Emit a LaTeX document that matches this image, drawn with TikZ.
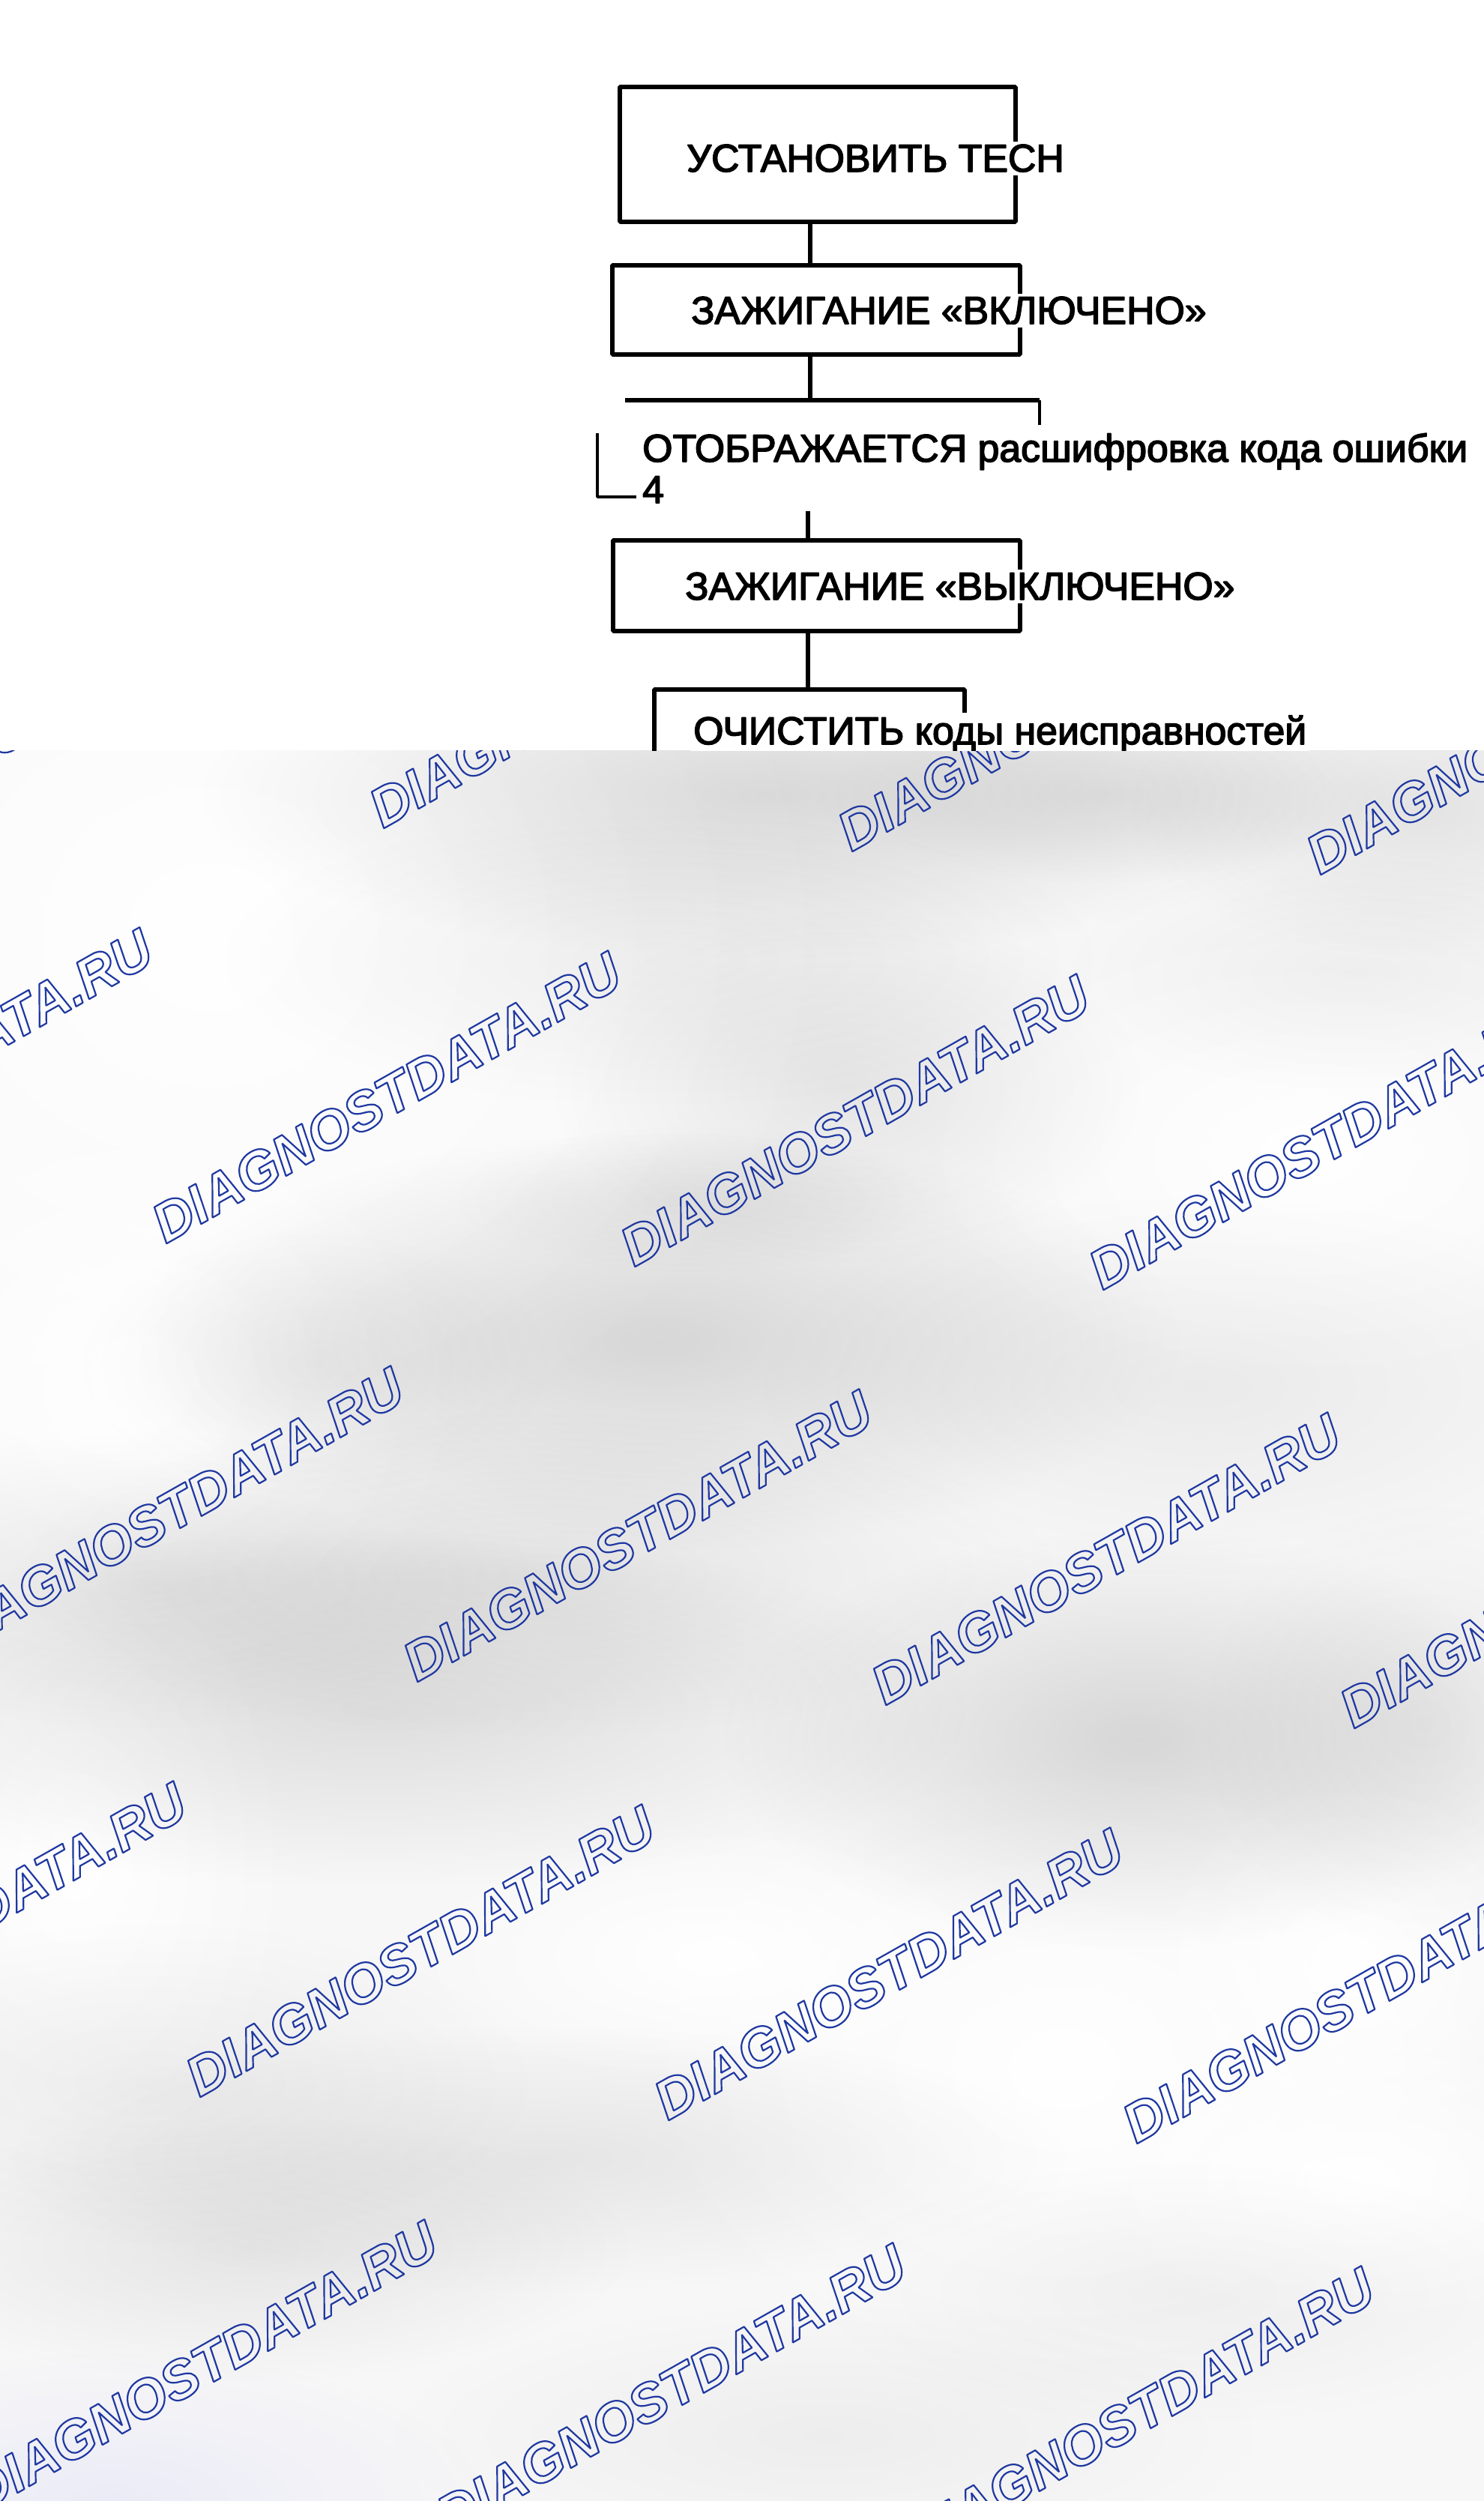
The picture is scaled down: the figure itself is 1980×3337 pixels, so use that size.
\documentclass[tikz,border=0pt]{standalone}
\usepackage{fontspec}
\setmainfont{Liberation Sans}
\newfontfamily\stepfont[FakeBold=3]{Liberation Sans}
\usetikzlibrary{fadings}
\tikzfading[name=fuzzyblob, inner color=transparent!0, outer color=transparent!100]
\definecolor{wmblue}{RGB}{30,55,160}
\newcommand\wmoutline[1]{\special{pdf:literal direct 1 Tr 2.2 w 0.12 0.22 0.63 RG}#1\special{pdf:literal direct 0 Tr}}
\begin{document}
\begin{tikzpicture}[x=1bp,y=1bp,line join=bevel,
  stepbox/.style={draw,line width=6bp,inner sep=0pt},
  steptext/.style={fill=white,inner sep=4bp,anchor=base west,font=\stepfont\fontsize{52}{57}\selectfont},
  link/.style={line width=6bp},
  watermark/.style={anchor=base west,inner sep=0pt,rotate=29.5,text=wmblue,font=\fontsize{73.5}{73.5}\selectfont\bfseries\itshape},
  blob/.style={fill=black,path fading=fuzzyblob},
  glare/.style={fill=white,path fading=fuzzyblob}]
\useasboundingbox (0bp,0bp) rectangle (1980bp,-3337bp);
\fill [white] (0bp,0bp) rectangle (1980bp,-3337bp);
%
\begin{scope}
  \clip (0bp,-1001bp) rectangle (1980bp,-3337bp);
  \fill [black!3] (0bp,-1001bp) rectangle (1980bp,-3337bp);
  \foreach \cx/\cy/\rx/\ry in {280/1250/900/800, 1750/1540/560/320, 1420/2760/600/440,
      1810/2910/400/200, 190/1850/460/420, 100/2480/300/460, 950/2610/420/180,
      1800/2620/300/260}
    \fill [glare,fill opacity=1] (\cx,-\cy) ellipse [x radius=\rx, y radius=\ry];
  \foreach \cx/\cy/\rx/\ry/\op in {1020/1060/760/220/0.12, 1480/1060/400/120/0.07,
      1900/1080/400/200/0.08, 880/1280/600/200/0.05, 1130/1450/400/240/0.07,
      880/1790/700/280/0.13, 1600/1850/600/260/0.05, 420/1820/320/180/0.05,
      200/2110/520/200/0.07, 720/2100/700/220/0.08, 500/2280/800/240/0.10,
      1520/2320/560/280/0.13, 1900/2300/300/300/0.05, 200/2780/520/220/0.05,
      720/2880/720/180/0.07, 330/3000/520/180/0.07, 1580/3060/500/180/0.04,
      1100/3250/600/180/0.04, 1810/1300/400/160/0.04, 920/1600/320/100/0.05}
    \fill [blob,fill opacity=\op] (\cx,-\cy) ellipse [x radius=\rx, y radius=\ry];
  \fill [fill=blue!40,path fading=fuzzyblob,fill opacity=0.12] (150,-3337) ellipse [x radius=500, y radius=200];
  \foreach \i in {-2,...,3}
    \foreach \j in {-2,...,3}
      \node (wm\i\j) at ({221+625*\i-290*\j},{-1660-31*\i-554*\j}) [watermark] {\wmoutline{DIAGNOSTDATA.RU}};
\end{scope}
%%
\begin{scope}
\clip (0bp,0bp) rectangle (1980bp,-1001bp);
\node (setup) at (1091bp,-206bp) [stepbox,minimum width=528bp,minimum height=180bp] {};
  \node (ignon) at (1089bp,-413bp) [stepbox,minimum width=544bp,minimum height=119bp] {};
  \node (ignoff) at (1089bp,-781bp) [stepbox,minimum width=543bp,minimum height=121bp] {};
  \node (clear) at (1080bp,-1020bp) [stepbox,minimum width=414bp,minimum height=200bp] {};
  \node (setuptxt) at (912bp,-229bp) [steptext] {УСТАНОВИТЬ ТЕСН};
  \node (ignontxt) at (918bp,-432bp) [steptext] {ЗАЖИГАНИЕ «ВКЛЮЧЕНО»};
  \node (shown) at (853bp,-616bp) [steptext] {ОТОБРАЖАЕТСЯ расшифровка кода ошибки};
  \node (shownnum) at (853bp,-671bp) [steptext] {4};
  \node (ignofftxt) at (910bp,-800bp) [steptext] {ЗАЖИГАНИЕ «ВЫКЛЮЧЕНО»};
  \node (cleartxt) at (921bp,-993bp) [steptext] {ОЧИСТИТЬ коды неисправностей};
  \coordinate (spine) at (1081bp,0bp);
  \coordinate (shownTL) at (834bp,-534bp);
  \coordinate (shownTR) at (1387bp,-534bp);
  \coordinate (shownR) at (1387bp,-567bp);
  \coordinate (shownL) at (797bp,-578bp);
  \coordinate (shownBL) at (797bp,-663bp);
  \coordinate (shownB) at (849bp,-663bp);
  \coordinate (resume) at (1078bp,-682bp);
  \draw [link] (setup.south -| spine) -- (ignon.north -| spine);
  \draw [link] (ignon.south -| spine) -- (shownTL -| spine);
  \draw [link] (shownTL) -- (shownTR);
  \draw [line width=3.5bp] (shownTR) -- (shownR);
  \draw [line width=4bp] (shownL) -- (shownBL) -- (shownB);
  \draw [link] (resume) -- (ignoff.north -| resume);
  \draw [link] (ignoff.south -| resume) -- (clear.north -| resume);
\end{scope}
%
\end{tikzpicture}
\end{document}
